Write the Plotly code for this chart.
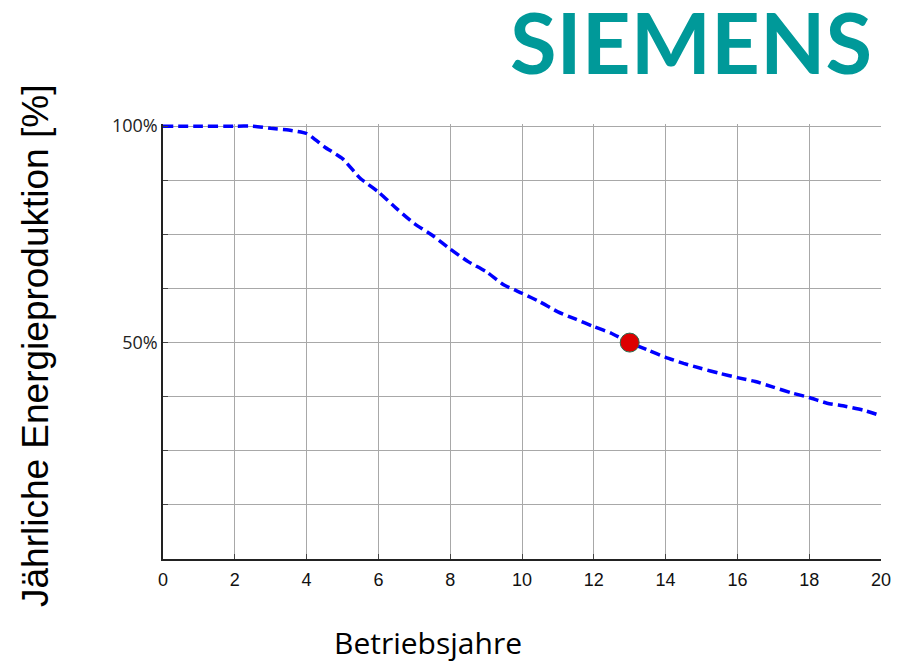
import plotly.graph_objects as go

# ---- data ----
years = [0, 1, 2, 2.5, 3, 3.5, 4, 4.5, 5, 5.5, 6, 6.5, 7, 7.5, 8, 8.5, 9, 9.5, 10,
         10.5, 11, 11.5, 12, 12.5, 13, 13.5, 14, 14.5, 15, 15.5, 16, 16.5, 17, 17.5,
         18, 18.5, 19, 19.5, 20]
energy = [100, 100, 100, 100, 99.5, 99.1, 98.3, 95.2, 92.5, 87.9, 84.8, 81.0, 77.5,
          74.8, 71.6, 68.7, 66.4, 63.3, 61.4, 59.4, 57.1, 55.4, 53.7, 52.1, 50.0,
          48.3, 46.6, 45.2, 44.0, 42.9, 41.9, 41.0, 39.7, 38.4, 37.3, 36.0, 35.3,
          34.4, 33.1]
marker_x = [13]
marker_y = [50]
x_ticks = list(range(0, 21, 2))
y_ticks = [0, 12.5, 25, 37.5, 50, 62.5, 75, 87.5, 100]
y_ticktext = ["", "", "", "", "50%", "", "", "", "100%"]

title_y = "Jährliche Energieproduktion [%]"
title_x = "Betriebsjahre"
logo = "SIEMENS"

# ---- layout geometry ----
W, H = 903, 662
L, R, T, B = 163, 22, 124, 103
PW, PH = W - L - R, H - T - B


def px2paper(px, py):
    return (px - L) / PW, (H - B - py) / PH


fig = go.Figure()
fig.add_trace(go.Scatter(
    x=years, y=energy, mode="lines",
    line=dict(color="#0000ff", width=3.5, dash="10px,5px", shape="spline", smoothing=0.5),
    hoverinfo="skip", showlegend=False,
))
fig.add_trace(go.Scatter(
    x=marker_x, y=marker_y, mode="markers",
    marker=dict(color="#dd0000", size=19, line=dict(color="#2f6b50", width=1)),
    showlegend=False, cliponaxis=False,
))

ax_x, ax_y = px2paper(35, 346)
bx, by = px2paper(428, 642)
sx, sy = px2paper(691, 41)

fig.update_layout(
    width=W, height=H,
    margin=dict(l=L, r=R, t=T, b=B, pad=0),
    paper_bgcolor="white", plot_bgcolor="white",
    xaxis=dict(
        range=[0, 20], tickvals=x_ticks, ticktext=[str(v) for v in x_ticks],
        showgrid=True, gridcolor="#a8a8a8", gridwidth=1,
        showline=True, linecolor="#222222", linewidth=1.5,
        ticks="inside", ticklen=5, tickcolor="#444444",
        tickfont=dict(family="Liberation Sans", size=18, color="#111111"),
        ticklabelstandoff=4, zeroline=False,
    ),
    yaxis=dict(
        range=[0, 100.5], tickvals=y_ticks, ticktext=y_ticktext,
        showgrid=True, gridcolor="#a8a8a8", gridwidth=1,
        showline=True, linecolor="#222222", linewidth=1.5,
        ticks="inside", ticklen=5, tickcolor="#444444",
        tickfont=dict(family="Open Sans", size=18, color="#222222"),
        ticklabelstandoff=0, zeroline=False,
    ),
    annotations=[
        dict(text=title_y, x=ax_x, y=ax_y, xref="paper", yref="paper",
             showarrow=False, textangle=-90, xanchor="center", yanchor="middle",
             font=dict(family="Liberation Sans", size=37, color="#000000")),
        dict(text=title_x, x=bx, y=by, xref="paper", yref="paper",
             showarrow=False, xanchor="center", yanchor="middle",
             font=dict(family="Open Sans", size=30, color="#000000")),
        dict(text=logo, x=sx, y=sy, xref="paper", yref="paper",
             showarrow=False, xanchor="center", yanchor="middle",
             font=dict(family="Lato", size=85, color="#009999", weight=700)),
    ],
)

fig.write_html("out.html")
